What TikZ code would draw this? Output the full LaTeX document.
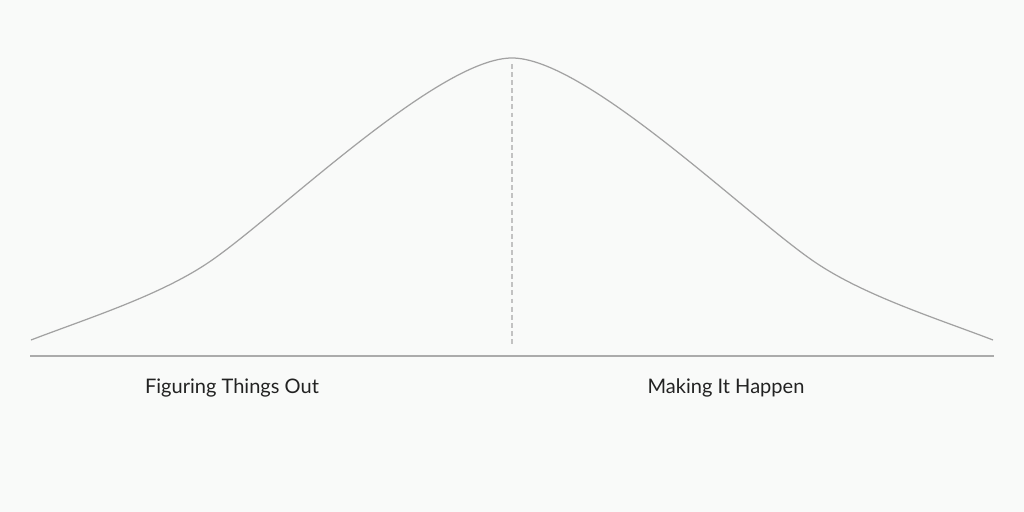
\documentclass[tikz,border=0pt]{standalone}
\usepackage{fontspec}
\setmainfont{Lato}
\usepackage{xcolor}
\usetikzlibrary{positioning,calc}

\definecolor{paper}{HTML}{F9FAF9}
\definecolor{curvegray}{HTML}{A2A2A2}
\definecolor{axisgray}{HTML}{ABABAB}
\definecolor{midgray}{HTML}{C2C2C2}
\definecolor{labelink}{HTML}{222222}

\tikzset{
  bell/.style={curvegray, line width=0.35pt},
  axisline/.style={axisgray, line width=0.6pt},
  midline/.style={midgray, line width=0.3pt, dash pattern=on 1.4pt off 0.9pt},
  phase/.style={text=labelink, inner sep=0pt, anchor=base, font=\fontsize{5.7}{7}\selectfont}
}

\begin{document}
\begin{tikzpicture}[x=0.01cm,y=-0.01cm]
\fill[paper] (0,0) rectangle (1024,512);
\useasboundingbox (0,0) rectangle (1024,512);

% the bell
\coordinate (start) at (31,340);
\coordinate (rise) at (215,258);
\coordinate (top) at (512,58);
\coordinate (fall) at (809,258);
\coordinate (end) at (993,340);
\draw[bell] (start) .. controls (91,317) and (165,294) .. (rise)
  .. controls (285,208) and (440,58) .. (top)
  .. controls (584,58) and (739,208) .. (fall)
  .. controls (859,294) and (933,317) .. (end);

% axis and middle
\coordinate (axis left) at (30,356);
\coordinate (axis right) at (994,356);
\draw[axisline] (axis left) -- (axis right);
\coordinate (peak) at (512,64);
\coordinate (foot) at (512,346);
\draw[midline] (peak) -- (foot);

\node[phase] (figuring) at (232,393) {Figuring Things Out};
\node[phase] (making) at (726,393) {Making It Happen};
\end{tikzpicture}
\end{document}
